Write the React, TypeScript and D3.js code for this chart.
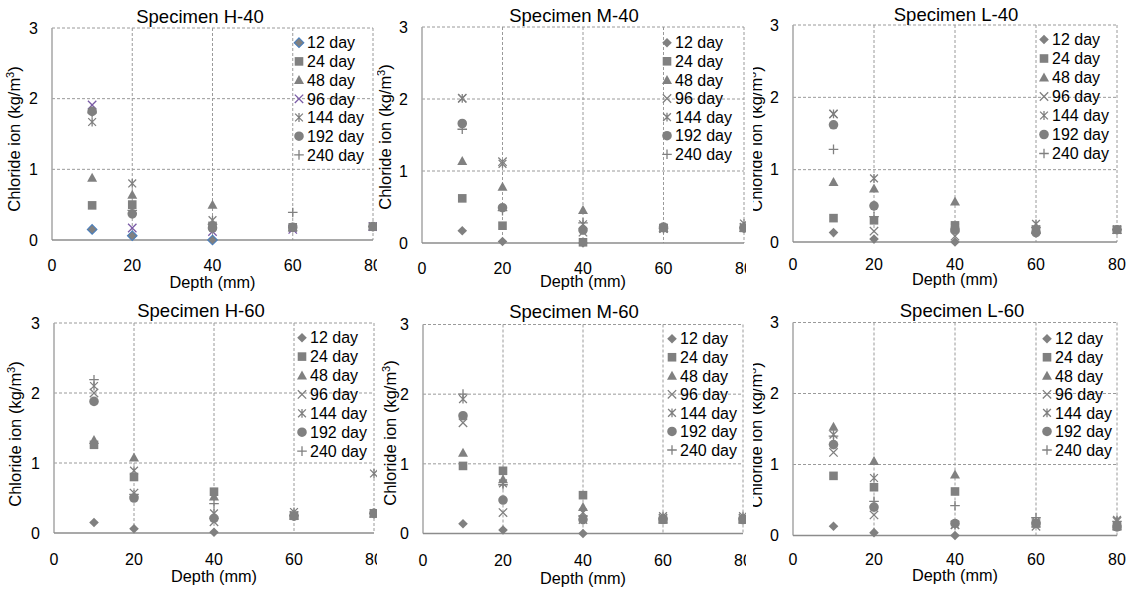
import React from "react";
import * as d3 from "d3";

const DEPTHS = [10, 20, 40, 60, 80];
const SERIES = ["12 day", "24 day", "48 day", "96 day", "144 day", "192 day", "240 day"];
const X_TICKS = [0, 20, 40, 60, 80];
const Y_TICKS = [0, 1, 2, 3];

// rows: series (12,24,48,96,144,192,240 day); columns: depths 10,20,40,60,80 mm
const H40 = [
  [0.15, 0.06, 0.0, null, null],
  [0.49, 0.5, 0.2, 0.18, 0.19],
  [0.88, 0.64, 0.5, 0.18, 0.19],
  [1.91, 0.17, 0.12, 0.15, 0.19],
  [1.67, 0.8, 0.28, 0.17, 0.19],
  [1.82, 0.37, 0.17, 0.18, 0.19],
  [1.8, 0.42, 0.22, 0.39, 0.19],
];
const M40 = [
  [0.17, 0.02, 0.0, null, null],
  [0.62, 0.24, 0.01, 0.21, 0.21],
  [1.14, 0.78, 0.46, 0.21, 0.21],
  [2.01, 1.13, 0.15, 0.2, 0.22],
  [2.01, 1.1, 0.26, 0.2, 0.27],
  [1.66, 0.49, 0.18, 0.22, 0.21],
  [1.58, 0.45, 0.28, 0.2, 0.21],
];
const L40 = [
  [0.13, 0.04, 0.0, null, null],
  [0.33, 0.3, 0.23, 0.17, 0.17],
  [0.83, 0.74, 0.56, 0.17, 0.17],
  [1.77, 0.15, 0.08, 0.17, 0.17],
  [1.77, 0.88, 0.2, 0.25, 0.17],
  [1.62, 0.5, 0.17, 0.13, 0.17],
  [1.28, 0.35, 0.15, 0.2, 0.17],
];
const H60 = [
  [0.15, 0.06, 0.01, null, null],
  [1.26, 0.8, 0.59, 0.25, 0.28],
  [1.33, 1.08, 0.52, 0.25, 0.28],
  [2.0, 0.57, 0.16, 0.25, 0.28],
  [2.1, 0.89, 0.28, 0.3, 0.85],
  [1.88, 0.5, 0.21, 0.24, 0.28],
  [2.19, 0.55, 0.42, 0.25, 0.28],
];
const M60 = [
  [0.14, 0.05, 0.0, null, null],
  [0.97, 0.9, 0.55, 0.2, 0.2],
  [1.16, 0.78, 0.38, 0.2, 0.2],
  [1.59, 0.3, 0.2, 0.22, 0.22],
  [1.93, 0.72, 0.3, 0.25, 0.25],
  [1.69, 0.48, 0.2, 0.2, 0.2],
  [2.0, 0.7, 0.25, 0.22, 0.22],
];
const L60 = [
  [0.13, 0.04, 0.0, null, null],
  [0.84, 0.68, 0.62, 0.17, 0.13],
  [1.53, 1.05, 0.86, 0.17, 0.13],
  [1.17, 0.29, 0.15, 0.13, 0.2],
  [1.42, 0.81, 0.15, 0.2, 0.22],
  [1.28, 0.4, 0.17, 0.17, 0.12],
  [1.4, 0.48, 0.42, 0.25, 0.2],
];

const TITLES = ["Specimen H-40", "Specimen M-40", "Specimen L-40", "Specimen H-60", "Specimen M-60", "Specimen L-60"];
const DATASETS = [H40, M40, L40, H60, M60, L60];

const LAYOUTS = [
  { l: 52, r: 373, t: 28, b: 240, clip: [0, 0, 377, 296], titleX: 200, titleY: 23, ylabX: 20, ylabY: 139, legX: 299, legY: 42.7, legDy: 18.7, xlabY: 288, tickY: 271, colored: true },
  { l: 422, r: 744, t: 27, b: 243, clip: [377, 0, 369, 296], titleX: 574, titleY: 21.7, ylabX: 391, ylabY: 137, legX: 667, legY: 42.7, legDy: 18.6, xlabY: 287, tickY: 274, colored: false },
  { l: 793, r: 1117, t: 25, b: 242, clip: [753, 0, 378, 296], titleX: 956, titleY: 20.7, ylabX: 762, ylabY: 139, legX: 1044, legY: 39.5, legDy: 19, xlabY: 285, tickY: 270, colored: false },
  { l: 54, r: 374, t: 323, b: 533, clip: [0, 296, 377, 296], titleX: 201, titleY: 316.7, ylabX: 21, ylabY: 434, legX: 302, legY: 337.7, legDy: 18.9, xlabY: 582, tickY: 565, colored: false },
  { l: 423, r: 743, t: 324.5, b: 533.5, clip: [377, 296, 369, 296], titleX: 574, titleY: 317.7, ylabX: 396, ylabY: 433, legX: 672, legY: 338.7, legDy: 18.55, xlabY: 584, tickY: 566, colored: false },
  { l: 793, r: 1117, t: 322.5, b: 535.5, clip: [753, 296, 378, 296], titleX: 962, titleY: 316.7, ylabX: 762, ylabY: 435, legX: 1047, legY: 338.7, legDy: 18.55, xlabY: 581, tickY: 565, colored: false },
];

const GRAY = "#808080";
const FONT = "'Liberation Sans', Arial, sans-serif";

function markerPath(kind: number, cx: number, cy: number): string {
  const p = d3.path();
  switch (kind) {
    case 0: {
      const h = 4.8;
      p.moveTo(cx, cy - h); p.lineTo(cx + h, cy); p.lineTo(cx, cy + h); p.lineTo(cx - h, cy); p.closePath();
      break;
    }
    case 1: {
      const h = 4.3;
      p.rect(cx - h, cy - h, 2 * h, 2 * h);
      break;
    }
    case 2: {
      p.moveTo(cx, cy - 5); p.lineTo(cx + 5, cy + 4); p.lineTo(cx - 5, cy + 4); p.closePath();
      break;
    }
    case 3: {
      const h = 4.2;
      p.moveTo(cx - h, cy - h); p.lineTo(cx + h, cy + h);
      p.moveTo(cx - h, cy + h); p.lineTo(cx + h, cy - h);
      break;
    }
    case 4: {
      const h = 3.9;
      p.moveTo(cx - h, cy - h); p.lineTo(cx + h, cy + h);
      p.moveTo(cx - h, cy + h); p.lineTo(cx + h, cy - h);
      p.moveTo(cx, cy - h - 0.5); p.lineTo(cx, cy + h + 0.5);
      break;
    }
    case 5: {
      p.moveTo(cx + 4.8, cy);
      p.arc(cx, cy, 4.8, 0, Math.PI * 2);
      break;
    }
    default: {
      const h = 4.8;
      p.moveTo(cx - h, cy); p.lineTo(cx + h, cy);
      p.moveTo(cx, cy - h); p.lineTo(cx, cy + h);
    }
  }
  return p.toString();
}

function Marker({ kind, cx, cy, colored }: { kind: number; cx: number; cy: number; colored: boolean }) {
  const filled = kind <= 2 || kind === 5;
  if (filled) {
    const stroke = colored && kind === 0 ? "#4a7ebb" : "none";
    return <path d={markerPath(kind, cx, cy)} fill={GRAY} stroke={stroke} strokeWidth={1.1} />;
  }
  const col = colored && kind === 3 ? "#7a5ba6" : GRAY;
  return <path d={markerPath(kind, cx, cy)} fill="none" stroke={col} strokeWidth={1.3} />;
}

function Panel({ idx }: { idx: number }) {
  const L = LAYOUTS[idx];
  const data = DATASETS[idx];
  const x = d3.scaleLinear().domain([0, 80]).range([L.l, L.r]);
  const y = d3.scaleLinear().domain([0, 3]).range([L.b, L.t]);
  const [cx, cy, cw, ch] = L.clip;
  const cid = `clip${idx}`;
  return (
    <g>
      <defs>
        <clipPath id={cid}>
          <rect x={cx} y={cy} width={cw} height={ch} />
        </clipPath>
      </defs>
      <g clipPath={`url(#${cid})`} fontFamily={FONT}>
        {Y_TICKS.filter((t) => t > 0).map((t) => (
          <line key={"gy" + t} x1={L.l} x2={L.r} y1={y(t)} y2={y(t)} stroke="#9a9a9a" strokeWidth={1} strokeDasharray="3,2" />
        ))}
        {X_TICKS.filter((t) => t > 0).map((t) => (
          <line key={"gx" + t} x1={x(t)} x2={x(t)} y1={L.t} y2={L.b} stroke="#9a9a9a" strokeWidth={1} strokeDasharray="3,2" />
        ))}
        <line x1={L.l} x2={L.l} y1={L.t} y2={L.b} stroke="#a6a6a6" strokeWidth={1.5} />
        <line x1={L.l} x2={L.r} y1={L.b} y2={L.b} stroke="#8c8c8c" strokeWidth={1.5} />
        {Y_TICKS.map((t) => (
          <text key={"ty" + t} x={L.l - 14} y={y(t)} dy="0.36em" textAnchor="end" fontSize={16} fill="#000">
            {t}
          </text>
        ))}
        {X_TICKS.map((t) => (
          <text key={"tx" + t} x={x(t)} y={L.tickY} textAnchor="middle" fontSize={16} fill="#000">
            {t}
          </text>
        ))}
        <text x={L.titleX} y={L.titleY} textAnchor="middle" fontSize={18.5} fill="#000">
          {TITLES[idx]}
        </text>
        <text x={(L.l + L.r) / 2} y={L.xlabY} textAnchor="middle" fontSize={16.3} fill="#000">
          Depth (mm)
        </text>
        <text
          transform={`translate(${L.ylabX},${L.ylabY}) rotate(-90)`}
          textAnchor="middle"
          fontSize={16.5}
          fill="#000"
        >
          Chloride ion (kg/m<tspan fontSize={11} dy={-6}>3</tspan>
          <tspan dy={6}>)</tspan>
        </text>
        {data.map((row, si) =>
          row.map((v, di) =>
            v === null ? null : (
              <Marker key={`p${si}-${di}`} kind={si} cx={x(DEPTHS[di])} cy={y(v as number)} colored={L.colored} />
            )
          )
        )}
        {SERIES.map((s, si) => (
          <g key={"lg" + si}>
            <Marker kind={si} cx={L.legX} cy={L.legY + si * L.legDy} colored={L.colored} />
            <text x={L.legX + 8} y={L.legY + si * L.legDy} dy="0.36em" fontSize={16} fill="#000">
              {s}
            </text>
          </g>
        ))}
      </g>
    </g>
  );
}

export default function App() {
  return (
    <svg
      width={1131}
      height={592}
      style={{ position: "absolute", left: 0, top: 0, background: "#fff" }}
    >
      <rect x={0} y={0} width={1131} height={592} fill="#fff" />
      {LAYOUTS.map((_, i) => (
        <Panel key={i} idx={i} />
      ))}
    </svg>
  );
}
